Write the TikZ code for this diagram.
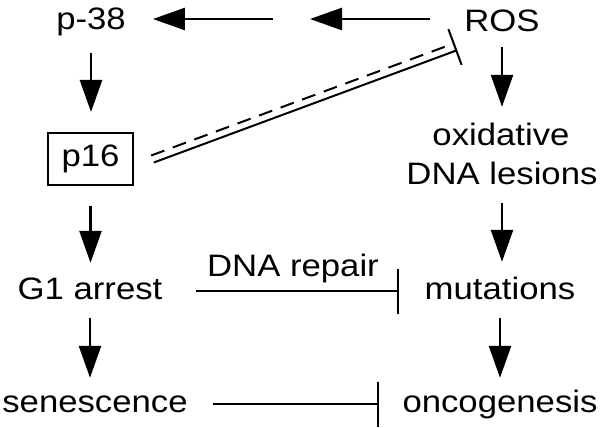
\documentclass[tikz,border=0pt]{standalone}
\usepackage{fontspec}
\setmainfont[FakeStretch=1.12]{Liberation Sans}
\usetikzlibrary{arrows.meta,calc}
\begin{document}
\begin{tikzpicture}[x=1pt,y=-1pt,
  lbl/.style={inner sep=0pt, anchor=base, text height=23pt, text depth=7pt, font=\fontsize{31}{39}\selectfont},
  act/.style={line width=2.6pt, -{Triangle[length=32pt,width=22pt]}},
  inh/.style={line width=2pt, -{Bar[width=45pt,line width=2pt]}},
  boxed/.style={draw, line width=2pt, minimum width=85pt, minimum height=52pt, inner sep=0pt, font=\fontsize{31}{39}\selectfont}]
\useasboundingbox (0,0) rectangle (600,428);
% nodes
\node[lbl] (p38) at (91,30) {p-38};
\node[lbl] (ros) at (502,32) {ROS};
\node[boxed] (p16) at (90.5,159) {p16};
\node[lbl] (ox1) at (501,145) {oxidative};
\node[lbl] (ox2) at (502,184) {DNA lesions};
\node[lbl] (g1) at (90,299) {G1 arrest};
\node[lbl] (mut) at (500,299) {mutations};
\node[lbl] (sen) at (95,412) {senescence};
\node[lbl] (onc) at (500,412) {oncogenesis};
\node[lbl] (rep) at (293,276) {DNA repair};
\coordinate (gap) at (291.5,19);
\coordinate (ia) at (152.5,159);
\coordinate (ib) at (455,47);
% top arrows
\draw[act, shorten <=34pt, shorten >=18.5pt] (ros.west |- gap) -- (gap);
\draw[act, shorten <=18.5pt, shorten >=27pt] (gap) -- (p38.east |- gap);
% left column
\draw[act, shorten <=16pt, shorten >=20pt] (p38.south) -- (p38.south |- p16.north);
\draw[act, shorten <=20pt, shorten >=13pt] (p16.south) -- (p16.south |- g1.north);
\draw[act, shorten <=12pt, shorten >=11pt] (g1.south) -- (g1.south |- sen.north);
% right column
\draw[act, shorten <=8pt, shorten >=15pt] (ros.south) -- (ros.south |- ox1.north);
\draw[act, shorten <=12pt, shorten >=14pt] (ox2.south) -- (ox2.south |- mut.north);
\draw[act, shorten <=12pt, shorten >=11pt] (mut.south) -- (mut.south |- onc.north);
% inhibitions
\draw[inh, shorten <=33pt, shorten >=26pt] (g1.east) -- (mut.west |- g1.east);
\draw[inh, shorten <=25pt, shorten >=23pt] (sen.east) -- (onc.west |- sen.east);
% ROS -| p16 double line
\draw[line width=2pt] ($(ia)!3.75pt!-90:(ib)$) -- ($(ib)!3.75pt!90:(ia)$);
\draw[line width=2pt, dash pattern=on 14pt off 9pt] ($(ia)!3.75pt!90:(ib)$) -- ($(ib)!3.75pt!-90:(ia)$);
\draw[line width=2pt] ($(ib)!19pt!90:(ia)$) -- ($(ib)!19pt!-90:(ia)$);
\end{tikzpicture}
\end{document}
